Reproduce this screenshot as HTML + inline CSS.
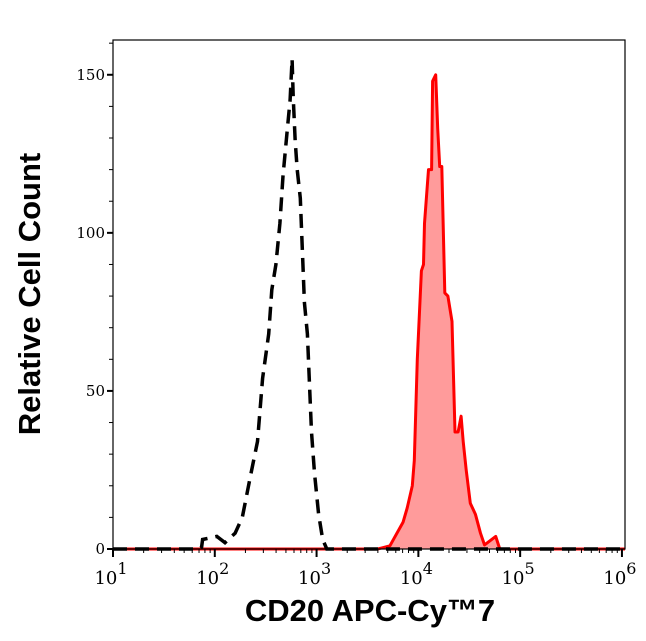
<!DOCTYPE html>
<html><head><meta charset="utf-8"><style>
body{margin:0;background:#fff}
svg{display:block}
.tk{font-family:"DejaVu Serif","Liberation Serif",serif;font-size:15px;fill:#000}
.xk{font-family:"DejaVu Serif","Liberation Serif",serif;font-size:18px;fill:#000}
.tt{font-family:"Liberation Sans",sans-serif;font-weight:bold;font-size:31px;fill:#000}
</style></head><body>
<svg id="chart" width="646" height="641" viewBox="0 0 646 641" xmlns="http://www.w3.org/2000/svg">
<g id="plot"></g>
<rect x="113" y="40" width="512" height="509" fill="none" stroke="#000" stroke-width="1.2"/>
<text class="tt" transform="translate(40,294) rotate(-90)" text-anchor="middle">Relative Cell Count</text>
<text class="tt" x="370" y="621" text-anchor="middle">CD20 APC-Cy™7</text>
</svg>
<script>
const redLog=[1.0,3.6,3.72,3.85,3.89,3.94,3.96,3.99,4.03,4.05,4.06,4.10,4.13,4.14,4.17,4.19,4.21,4.23,4.26,4.29,4.33,4.36,4.39,4.42,4.44,4.47,4.51,4.56,4.61,4.65,4.76,4.80,4.9,6.03];
const redCount=[0,0,1,8.5,13,20,28,60,88,90,103,120,120,148,150,133,121,121,81,80,72,37,37,42,34,25,14.5,11,5,1.3,4,0,0,0];
const blackLog=[1.0,1.85,1.87,1.88,2.02,2.10,2.20,2.27,2.35,2.42,2.47,2.53,2.56,2.60,2.64,2.67,2.71,2.74,2.76,2.77,2.79,2.81,2.84,2.86,2.88,2.91,2.93,2.95,2.98,3.02,3.06,3.10,6.03];
const blackCount=[0,0,0.6,3,4,2,5,10,23,34,54,68,82,90,103,118,132,142,155,143,129,120,111,95,78,68,52,37,24,11,3,0,0];
const yTicks=[0,50,100,150];
const xDecades=[1,2,3,4,5,6];
const L=113,R=625,T=40,B=549,xMin=1,xMax=6.03,yMax=161;
const xs=v=>L+(v-xMin)/(xMax-xMin)*(R-L);
const ys=v=>B-v/yMax*(B-T);
const NS="http://www.w3.org/2000/svg";
const svg=document.getElementById('chart'),plot=document.getElementById('plot');
function mk(t,a,p){const e=document.createElementNS(NS,t);for(const k in a)e.setAttribute(k,a[k]);(p||svg).appendChild(e);return e;}
let d=redLog.map((v,i)=>(i?'L':'M')+xs(v).toFixed(1)+','+ys(redCount[i]).toFixed(1)).join('');
const rf=mk('path',{d:d+'L'+xs(6.03)+','+B+'L'+xs(1)+','+B+'Z',fill:'#ff9b9b',stroke:'none'},plot);


const rl=mk('path',{d:d,fill:'none',stroke:'#f00','stroke-width':3,'stroke-linejoin':'round'},plot);


let db=blackLog.map((v,i)=>(i?'L':'M')+xs(v).toFixed(1)+','+ys(blackCount[i]).toFixed(1)).join('');
const bl=mk('path',{d:db,fill:'none',stroke:'#000','stroke-width':3.5,'stroke-dasharray':'14 8'},plot);


for(let v=0;v<=160;v+=10){const maj=v%50===0;
 const t=mk('line',{x1:maj?107:109,x2:113,y1:ys(v),y2:ys(v),stroke:'#000','stroke-width':maj?2:1});
 
 }
yTicks.forEach(v=>{const t=mk('text',{x:105,y:ys(v)+5,'text-anchor':'end',class:'tk'});t.textContent=v;
 
 });
xDecades.forEach(dc=>{
 const t=mk('line',{x1:xs(dc),x2:xs(dc),y1:B,y2:B+8,stroke:'#000','stroke-width':2});
 
 
 if(dc<6)for(let m=2;m<10;m++){const x=xs(dc+Math.log10(m));
  const mt=mk('line',{x1:x,x2:x,y1:B,y2:B+4,stroke:'#000','stroke-width':1});
  
  }
 const lb=mk('text',{x:xs(dc)-2,y:584,'text-anchor':'middle',class:'xk'});
 
 
 lb.innerHTML='10<tspan dy="-10" style="font-size:16px">'+dc+'</tspan>';
});
</script>
</body></html>
